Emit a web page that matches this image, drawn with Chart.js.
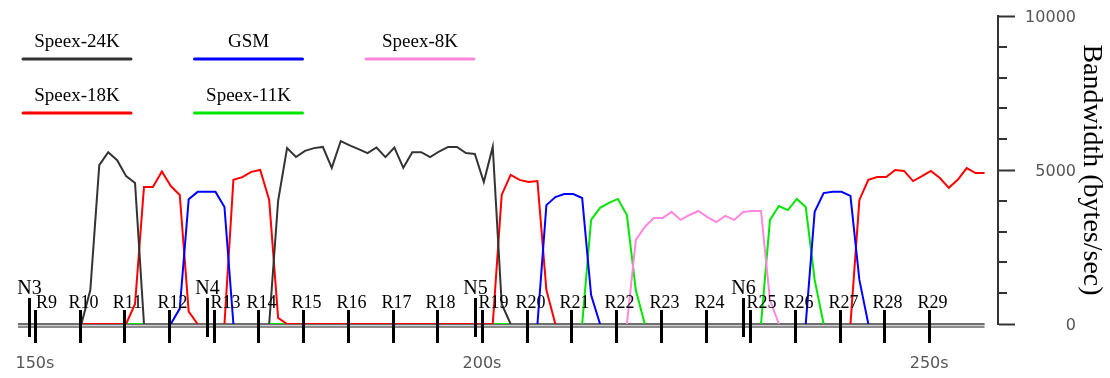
<!DOCTYPE html>
<html>
<head>
<meta charset="utf-8">
<title>Bandwidth per codec</title>
<script src="https://cdn.jsdelivr.net/npm/chart.js@4.4.1/dist/chart.umd.min.js"></script>
<style>
	html, body { margin: 0; padding: 0; background: #fff; }
</style>
</head>
<body>
<canvas id="bandwidth" width="1110" height="378"></canvas>
<script>

	/* Setup data (bytes/sec, one sample per second) */
	var _ = null;

	var seconds = [
		148.2, 149.2, 150.2, 151.2, 152.2, 153.2, 154.2, 155.2, 156.2, 157.2,
		158.2, 159.2, 160.2, 161.2, 162.2, 163.2, 164.2, 165.2, 166.2, 167.2,
		168.2, 169.2, 170.2, 171.2, 172.2, 173.2, 174.2, 175.2, 176.2, 177.2,
		178.2, 179.2, 180.2, 181.2, 182.2, 183.2, 184.2, 185.2, 186.2, 187.2,
		188.2, 189.2, 190.2, 191.2, 192.2, 193.2, 194.2, 195.2, 196.2, 197.2,
		198.2, 199.2, 200.2, 201.2, 202.2, 203.2, 204.2, 205.2, 206.2, 207.2,
		208.2, 209.2, 210.2, 211.2, 212.2, 213.2, 214.2, 215.2, 216.2, 217.2,
		218.2, 219.2, 220.2, 221.2, 222.2, 223.2, 224.2, 225.2, 226.2, 227.2,
		228.2, 229.2, 230.2, 231.2, 232.2, 233.2, 234.2, 235.2, 236.2, 237.2,
		238.2, 239.2, 240.2, 241.2, 242.2, 243.2, 244.2, 245.2, 246.2, 247.2,
		248.2, 249.2, 250.2, 251.2, 252.2, 253.2, 254.2, 255.2, 256.2
	];

	var speex24k = [
		_, _, _, _, _, _, _, 0, 1100, 5160,
		5580, 5320, 4800, 4580, 0, _, _, _, _, _,
		_, _, _, _, _, _, _, _, 0, 4000,
		5710, 5420, 5620, 5710, 5750, 5070, 5940, 5800, 5680, 5550,
		5730, 5420, 5730, 5070, 5580, 5580, 5420, 5600, 5750, 5750,
		5550, 5520, 4610, 5750, 650, 0, _, _, _, _,
		_, _, _, _, _, _, _, _, _, _,
		_, _, _, _, _, _, _, _, _, _,
		_, _, _, _, _, _, _, _, _, _,
		_, _, _, _, _, _, _, _, _, _,
		_, _, _, _, _, _, _, _, _
	];

	var gsm = [
		_, _, _, _, _, _, _, _, _, _,
		_, _, _, _, _, _, _, 0, 500, 4050,
		4290, 4290, 4290, 3800, 0, _, _, _, _, _,
		_, _, _, _, _, _, _, _, _, _,
		_, _, _, _, _, _, _, _, _, _,
		_, _, _, _, _, _, _, _, 0, 3860,
		4120, 4220, 4220, 4090, 940, 0, _, _, _, _,
		_, _, _, _, _, _, _, _, _, _,
		_, _, _, _, _, _, _, _, 0, 3640,
		4250, 4290, 4290, 4160, 1430, 0, _, _, _, _,
		_, _, _, _, _, _, _, _, _
	];

	var speex8k = [
		_, _, _, _, _, _, _, _, _, _,
		_, _, _, _, _, _, _, _, _, _,
		_, _, _, _, _, _, _, _, _, _,
		_, _, _, _, _, _, _, _, _, _,
		_, _, _, _, _, _, _, _, _, _,
		_, _, _, _, _, _, _, _, _, _,
		_, _, _, _, _, _, _, _, 0, 2730,
		3150, 3440, 3440, 3640, 3380, 3540, 3670, 3470, 3310, 3510,
		3380, 3640, 3670, 3670, 780, 0, _, _, _, _,
		_, _, _, _, _, _, _, _, _, _,
		_, _, _, _, _, _, _, _, _
	];

	var speex18k = [
		_, _, _, _, _, _, _, 0, 0, 0,
		0, 0, 0, 650, 4450, 4450, 4950, 4480, 4190, 400,
		0, _, _, 0, 4680, 4770, 4940, 5000, 4030, 200,
		0, 0, 0, 0, 0, 0, 0, 0, 0, 0,
		0, 0, 0, 0, 0, 0, 0, 0, 0, 0,
		0, 0, 0, 0, 4190, 4840, 4680, 4610, 4640, 1100,
		0, _, _, _, _, _, _, _, _, _,
		_, _, _, _, _, _, _, _, _, _,
		_, _, _, _, _, _, _, _, _, _,
		_, _, _, 0, 4030, 4680, 4770, 4770, 5000, 4970,
		4640, 4800, 4970, 4740, 4420, 4680, 5060, 4900, 4900
	];

	var speex11k = [
		_, _, _, _, _, _, _, _, _, _,
		_, _, 0, 0, 0, _, _, _, _, _,
		_, _, _, _, _, _, _, _, 0, 0,
		0, _, _, _, _, _, _, _, _, _,
		_, _, _, _, _, _, _, _, _, _,
		_, _, _, 0, 0, 0, _, _, _, _,
		_, _, _, 0, 3380, 3770, 3930, 4060, 3540, 1100,
		0, _, _, _, _, _, _, _, _, _,
		_, _, _, 0, 3380, 3830, 3700, 4060, 3800, 1430,
		0, _, _, _, _, _, _, _, _, _,
		_, _, _, _, _, _, _, _, _
	];

	/* Event markers along the time axis */
	var rLabels = ['R9', 'R10', 'R11', 'R12', 'R13', 'R14', 'R15', 'R16', 'R17', 'R18', 'R19',
		'R20', 'R21', 'R22', 'R23', 'R24', 'R25', 'R26', 'R27', 'R28', 'R29'];
	var rTimes = [150, 155, 160, 165, 170, 175, 180, 185, 190, 195, 200,
		205, 210, 215, 220, 225, 230, 235, 240, 245, 250];
	var nLabels = ['N3', 'N4', 'N5', 'N6'];
	var nTimes = [149.3, 169.2, 199.2, 229.2];

	/* Tick labels */
	var xTickValues = [150, 200, 250];
	var yTickValues = [0, 5000, 10000];

	var serif = '"Liberation Serif", "Times New Roman", serif';
	var sans = '"DejaVu Sans", Verdana, sans-serif';




	/* ********************************

	    Plugins - baseline, markers, axis, legend

	******************************** */

	var baselinePlugin = {
		id: 'baseline',
		beforeDatasetsDraw: function(chart) {
			var ctx = chart.ctx;
			var y0 = Math.round(chart.scales.y.getPixelForValue(0));
			var x0 = chart.chartArea.left + 1;
			var x1 = chart.scales.x.getPixelForValue(seconds[seconds.length - 1]);
			ctx.save();
			ctx.fillStyle = '#6e6e6e';
			ctx.fillRect(x0, y0 - 1, x1 - x0, 2);
			ctx.fillStyle = '#d0d0d0';
			ctx.fillRect(x0, y0 + 1, x1 - x0, 1);
			ctx.fillStyle = '#8c8c8c';
			ctx.fillRect(x0, y0 + 2, x1 - x0, 2);
			ctx.restore();
		}
	};

	var markerPlugin = {
		id: 'markers',
		afterDatasetsDraw: function(chart) {
			var ctx = chart.ctx;
			var xs = chart.scales.x;
			var y0 = chart.scales.y.getPixelForValue(0);

			ctx.save();
			ctx.strokeStyle = '#000';
			ctx.fillStyle = '#000';
			ctx.lineWidth = 3;
			ctx.textAlign = 'center';
			ctx.textBaseline = 'alphabetic';

			ctx.font = '18px ' + serif;
			rTimes.forEach(function(t, i) {
				var x = Math.round(xs.getPixelForValue(t)) + 0.5;
				ctx.beginPath();
				ctx.moveTo(x, y0 - 14);
				ctx.lineTo(x, y0 + 19);
				ctx.stroke();
				// labels that follow an N marker are pushed to the right
				var shift = 3;
				nTimes.forEach(function(n) {
					if (t - n > 0 && t - n < 1.5) shift = 11;
				});
				ctx.fillText(rLabels[i], x + shift, y0 - 16);
			});

			ctx.font = '20px ' + serif;
			nTimes.forEach(function(t, i) {
				var x = Math.round(xs.getPixelForValue(t)) + 0.5;
				ctx.beginPath();
				ctx.moveTo(x, y0 - 26);
				ctx.lineTo(x, y0 + 13);
				ctx.stroke();
				ctx.fillText(nLabels[i], x, y0 - 30);
			});
			ctx.restore();
		}
	};

	var axisPlugin = {
		id: 'yAxisExtras',
		afterDraw: function(chart) {
			var ctx = chart.ctx;
			var ys = chart.scales.y;
			var right = chart.chartArea.right;
			ctx.save();

			// minor ticks every 1000
			ctx.strokeStyle = '#333';
			ctx.lineWidth = 2;
			for (var v = 1000; v < 10000; v += 1000) {
				if (yTickValues.indexOf(v) >= 0) continue;
				var y = Math.round(ys.getPixelForValue(v));
				ctx.beginPath();
				ctx.moveTo(right, y);
				ctx.lineTo(right + 9, y);
				ctx.stroke();
			}

			// right-aligned tick labels
			ctx.fillStyle = '#555';
			ctx.font = '16px ' + sans;
			ctx.textAlign = 'right';
			ctx.textBaseline = 'middle';
			yTickValues.forEach(function(v) {
				ctx.fillText(String(v), right + 78, ys.getPixelForValue(v) + 2);
			});
			ctx.restore();
		}
	};

	var legendPlugin = {
		id: 'codecLegend',
		afterDraw: function(chart) {
			var ctx = chart.ctx;
			var left = chart.chartArea.left;
			ctx.save();
			ctx.textAlign = 'center';
			ctx.textBaseline = 'alphabetic';
			ctx.font = '19px ' + serif;
			chart.data.datasets.forEach(function(ds, i) {
				var cx = left + 60 + (i % 3) * 171.5;
				var ly = 59 + Math.floor(i / 3) * 54;
				ctx.fillStyle = '#000';
				ctx.fillText(ds.label, cx, ly - 12);
				ctx.strokeStyle = ds.borderColor;
				ctx.lineWidth = 3;
				ctx.lineCap = 'round';
				ctx.beginPath();
				ctx.moveTo(cx - 54, ly);
				ctx.lineTo(cx + 54, ly);
				ctx.stroke();
			});
			ctx.restore();
		}
	};




	/* ********************************

	    Chart - Bandwidth by codec

	******************************** */

	function buildBandwidthChart() {

		function series(label, data, color) {
			return {
				label: label,
				data: data,
				borderColor: color,
				borderWidth: 2,
				pointRadius: 0,
				tension: 0,
				fill: false,
				spanGaps: false
			};
		}

		var bandwidthChart = new Chart(document.getElementById('bandwidth'), {
			type: 'line',
			data: {
				labels: seconds,
				datasets: [
					series('Speex-24K', speex24k, '#333333'),
					series('GSM', gsm, '#0000ff'),
					series('Speex-8K', speex8k, '#ff88dd'),
					series('Speex-18K', speex18k, '#ff0000'),
					series('Speex-11K', speex11k, '#00e600')
				]
			},
			plugins: [baselinePlugin, markerPlugin, axisPlugin, legendPlugin],
			options: {
				responsive: false,
				animation: false,
				devicePixelRatio: 1,
				layout: { padding: { left: 17, top: 16, right: 0, bottom: 0 } },
				plugins: {
					legend: { display: false },
					tooltip: { enabled: false }
				},
				scales: {
					x: {
						type: 'linear',
						min: 148,
						max: 257.7,
						afterFit: function(scale) {
							scale.height = 54;
							scale.paddingLeft = 0;
							scale.paddingRight = 0;
						},
						border: { display: false },
						grid: { drawOnChartArea: false, tickLength: 10, tickColor: '#888', tickWidth: 1 },
						ticks: {
							stepSize: 10,
							includeBounds: false,
							autoSkip: false,
							maxRotation: 0,
							padding: 20,
							color: '#555',
							font: { family: sans, size: 16 },
							callback: function(v) {
								return xTickValues.indexOf(v) >= 0 ? v + 's' : '';
							}
						}
					},
					y: {
						position: 'right',
						min: 0,
						max: 10000,
						afterFit: function(scale) {
							scale.width = 112;
							scale.paddingTop = 0;
							scale.paddingBottom = 0;
						},
						afterBuildTicks: function(scale) {
							scale.ticks = yTickValues.map(function(v) { return { value: v }; });
						},
						border: { display: true, color: '#333', width: 2 },
						grid: { drawOnChartArea: false, tickLength: 17, tickColor: '#333', tickWidth: 2 },
						ticks: { display: false },
						title: {
							display: true,
							text: 'Bandwidth (bytes/sec)',
							color: '#000',
							font: { family: serif, size: 28, weight: 'normal' },
							padding: { top: 2, bottom: 0 }
						}
					}
				}
			}
		});
		return bandwidthChart;
	}
	buildBandwidthChart();

</script>
</body>
</html>
